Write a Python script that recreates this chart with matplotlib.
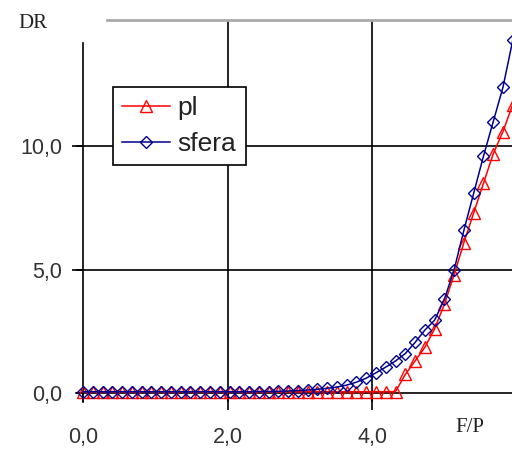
import matplotlib
matplotlib.use('Agg')
import matplotlib.pyplot as plt

# F/P values (x) and DR for the two series
fp = [0.0, 0.135, 0.27, 0.405, 0.54, 0.675, 0.81, 0.945, 1.08, 1.215,
      1.35, 1.485, 1.62, 1.755, 1.89, 2.025, 2.16, 2.295, 2.43, 2.565,
      2.7, 2.835, 2.97, 3.105, 3.24, 3.375, 3.51, 3.645, 3.78, 3.915,
      4.05, 4.185, 4.32, 4.455, 4.59, 4.725, 4.86, 4.995, 5.13, 5.265,
      5.4, 5.535, 5.67, 5.805, 5.94]

dr_pl = [0.05, 0.05, 0.05, 0.05, 0.05, 0.05, 0.05, 0.05, 0.05, 0.05,
         0.05, 0.05, 0.05, 0.05, 0.05, 0.05, 0.05, 0.05, 0.05, 0.05,
         0.05, 0.05, 0.05, 0.05, 0.05, 0.05, 0.05, 0.05, 0.05, 0.05,
         0.05, 0.05, 0.06, 0.75, 1.3, 1.85, 2.6, 3.6, 4.8, 6.1,
         7.3, 8.5, 9.7, 10.6, 11.7]

dr_sfera = [0.05, 0.05, 0.05, 0.05, 0.05, 0.05, 0.05, 0.05, 0.05, 0.05,
            0.05, 0.05, 0.05, 0.05, 0.05, 0.05, 0.05, 0.05, 0.06, 0.06,
            0.07, 0.08, 0.1, 0.12, 0.15, 0.19, 0.24, 0.32, 0.44, 0.6,
            0.82, 1.05, 1.3, 1.6, 2.05, 2.55, 2.95, 3.8, 5.0, 6.6,
            8.1, 9.6, 11.0, 12.4, 14.3]

xticks = [0.0, 2.0, 4.0]
yticks = [0.0, 5.0, 10.0]
xlabels = ['0,0', '2,0', '4,0']
ylabels = ['0,0', '5,0', '10,0']

plt.rcParams['font.family'] = ['Liberation Sans', 'DejaVu Sans']

fig = plt.figure(figsize=(5.12, 4.5), dpi=100)
ax = fig.add_axes([0.141, 0.0889, 0.859, 0.8667])

ax.plot(fp, dr_pl, color='#ff0000', lw=1.1, marker='^', ms=8,
        mfc='none', mec='#ff0000', mew=1.0, label='pl', zorder=3)
ax.plot(fp, dr_sfera, color='#000090', lw=1.1, marker='D', ms=6.5,
        mfc='none', mec='#000090', mew=1.0, label='sfera', zorder=4)

ax.set_xlim(-0.15, 5.93)
ax.set_ylim(-0.69, 15.13)

# gridlines in black
for yv in yticks[1:]:
    ax.axhline(yv, color='black', lw=1.2, zorder=1)
for xv in xticks[1:]:
    ax.axvline(xv, color='black', lw=1.2, zorder=1)

ax.spines['left'].set_position(('data', 0))
ax.spines['bottom'].set_position(('data', 0))
ax.spines['left'].set_bounds(-0.37, 14.2)
ax.spines['bottom'].set_bounds(-0.1, 5.93)
ax.spines['right'].set_visible(False)
ax.spines['top'].set_color('#aaaaaa')
ax.spines['top'].set_linewidth(2)
ax.spines['top'].set_bounds(0.33, 5.93)
for s in ['left', 'bottom']:
    ax.spines[s].set_linewidth(1.2)

ax.set_xticks(xticks)
ax.set_xticklabels(xlabels)
ax.set_yticks(yticks)
ax.set_yticklabels(ylabels)
ax.tick_params(axis='x', direction='out', length=6.5, width=1.2,
               pad=18, labelsize=15.5, labelcolor='#333333')
ax.tick_params(axis='y', direction='out', length=5, width=1.2,
               pad=10, labelsize=15.5, labelcolor='#333333')

leg = ax.legend(loc='upper left', bbox_to_anchor=(0.0928, 0.828),
                borderaxespad=0, fontsize=19, handlelength=1.8,
                handletextpad=0.3, labelspacing=0.45, borderpad=0.35,
                fancybox=False, framealpha=1, edgecolor='black')
leg.get_frame().set_linewidth(1.2)
for t in leg.get_texts():
    t.set_color('#222222')

fig.text(18 / 512, 1 - 23 / 450, 'DR', family='Liberation Serif',
         fontsize=15, va='center', ha='left', color='#222222')
fig.text(455 / 512, 1 - 427 / 450, 'F/P', family='Liberation Serif',
         fontsize=15, va='center', ha='left', color='#222222')

fig.savefig('out.png', dpi=100)
